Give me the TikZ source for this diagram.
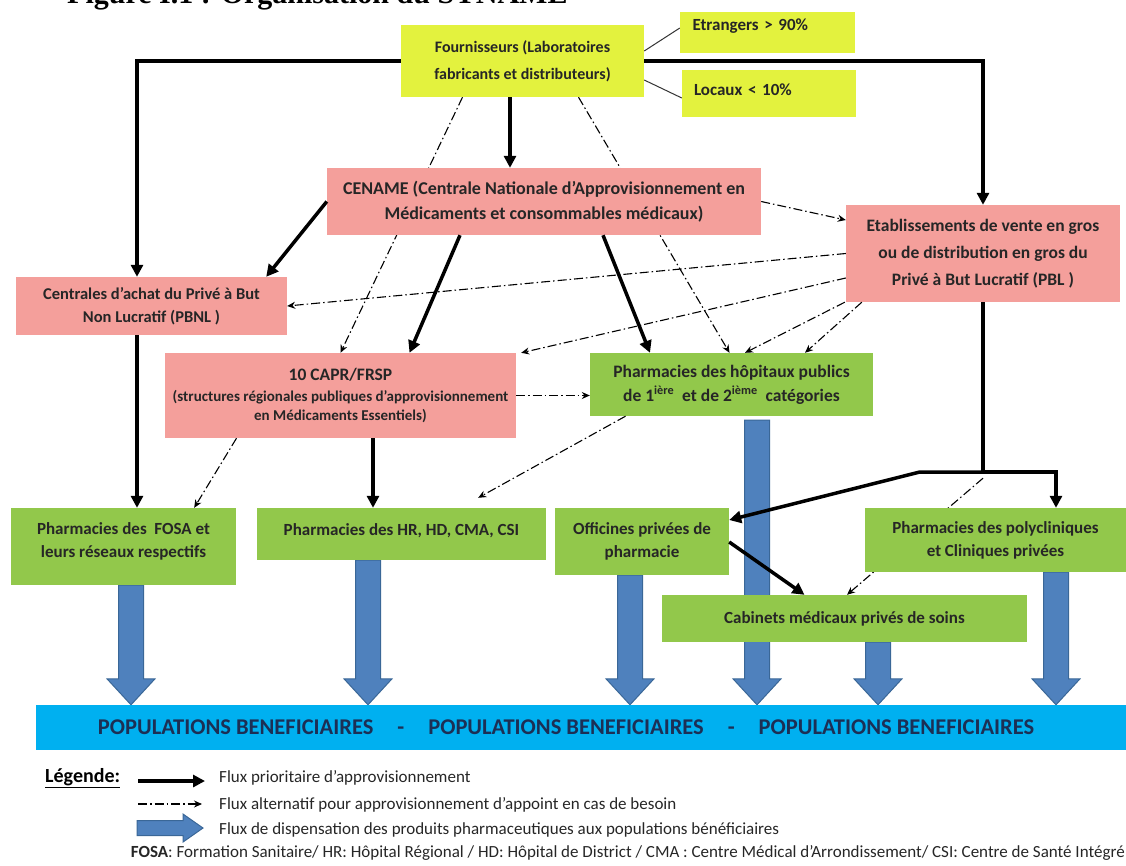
\documentclass[tikz,border=0pt]{standalone}
\usepackage{fontspec}
\setmainfont{Carlito}
\newfontfamily\titlefont{Liberation Serif}
\usetikzlibrary{arrows.meta}
\usetikzlibrary{positioning}
\usetikzlibrary{calc}
\usetikzlibrary{backgrounds}

\definecolor{jaune}{HTML}{E3F23E}
\definecolor{rose}{HTML}{F49F9B}
\definecolor{vert}{HTML}{92C84B}
\definecolor{cyanbar}{HTML}{00B0F0}
\definecolor{fluxbleu}{HTML}{4F81BD}
\definecolor{fluxbord}{HTML}{3A6797}
\definecolor{marine}{HTML}{1C2F55}

\newcommand{\boxfont}[2]{\bfseries\fontsize{#1}{#2}\selectfont}
% gros fleche bleue : depart, arrivee, demi-tige, demi-tete, longueur tete
\newcommand{\dispense}[5]{%
  \coordinate (hb) at ($(#2)!#5!(#1)$);
  \draw[flux] ($(#1)!#3!90:(#2)$) -- ($(hb)!#3!90:(#2)$) -- ($(hb)!#4!90:(#2)$) -- (#2)
    -- ($(hb)!#4!-90:(#2)$) -- ($(hb)!#3!-90:(#2)$) -- ($(#1)!#3!-90:(#2)$) -- cycle;}

\tikzset{
  box/.style={inner sep=2pt, align=center, text=black!85, font=\boxfont{17}{25}},
  jbox/.style={box, fill=jaune},
  rbox/.style={box, fill=rose},
  vbox/.style={box, fill=vert},
  prio/.style={-{Triangle[length=12pt,width=12pt]}, line width=3.5pt},
  alt/.style={-{Stealth[length=8pt,width=7pt]}, line width=1.1pt, dash pattern=on 9pt off 3pt on 1.5pt off 3pt},
  lien/.style={line width=1pt, black!80},
  flux/.style={fill=fluxbleu, draw=fluxbord, line width=1pt},
  legtext/.style={font=\fontsize{17}{20}\selectfont, text=black!85}
}

\begin{document}
\begin{tikzpicture}[x=1pt, y=-1pt]
\useasboundingbox (0,0) rectangle (1126,865);

% titre coupe
\node[font=\titlefont\bfseries\fontsize{30}{34}\selectfont, anchor=base west, inner sep=0] (titre) at (67,3) {Figure I.1 : Organisation du SYNAME};

% fournisseurs
\node[jbox, minimum width=243pt, minimum height=72pt, font=\boxfont{16}{27}] (four) at (522.5,61) {Fournisseurs (Laboratoires\\fabricants et distributeurs)};
\node[jbox, minimum width=175pt, minimum height=41pt, text width=150pt, align=left, text depth=15pt, xshift=-5pt, font=\boxfont{17}{20}] (etr) at (772.5,32.5) {Etrangers > 90\%};
\node[jbox, minimum width=174pt, minimum height=47pt, text width=150pt, align=left, text depth=7pt, xshift=-5pt, font=\boxfont{17}{20}] (loc) at (774,93.5) {Locaux < 10\%};

% centrales
\node[rbox, minimum width=434pt, minimum height=67pt, font=\boxfont{18}{25}] (cename) at (544,201.5) {CENAME (Centrale Nationale d’Approvisionnement en\\Médicaments et consommables médicaux)};
\node[rbox, minimum width=274pt, minimum height=97pt, font=\boxfont{17.5}{27}] (pbl) at (983,253.5) {Etablissements de vente en gros\\ou de distribution en gros du\\Privé à But Lucratif (PBL )};
\node[rbox, minimum width=271pt, minimum height=58pt, font=\boxfont{16.5}{23}] (pbnl) at (151.5,306) {Centrales d’achat du Privé à But\\Non Lucratif (PBNL )};
\node[rbox, minimum width=351pt, minimum height=85pt, font=\boxfont{15}{19}] (capr) at (340.5,395.5) {{\fontsize{17.5}{19}\selectfont 10 CAPR/FRSP}\\[2pt](structures régionales publiques d’approvisionnement\\en Médicaments Essentiels)};
\node[vbox, minimum width=283pt, minimum height=63pt, font=\boxfont{17.5}{24}] (hop) at (731.5,384.5) {Pharmacies des hôpitaux publics\\de 1\textsuperscript{ière}\ \ et de 2\textsuperscript{ième}\ \ catégories};

% pharmacies
\node[vbox, minimum width=225pt, minimum height=77pt, text depth=12pt, font=\boxfont{17}{23}] (fosa) at (123.5,546.5) {Pharmacies des\ \ FOSA et\\leurs réseaux respectifs};
\node[vbox, minimum width=289pt, minimum height=52pt, text depth=8pt, font=\boxfont{17}{23}] (hr) at (401.5,534) {Pharmacies des HR, HD, CMA, CSI};
\node[vbox, minimum width=174pt, minimum height=67pt, font=\boxfont{17}{23}] (off) at (642,541.5) {Officines privées de\\pharmacie};
\node[vbox, minimum width=261pt, minimum height=64pt, font=\boxfont{17}{23}] (poly) at (995.5,540) {Pharmacies des polycliniques\\et Cliniques privées};
\node[vbox, minimum width=365pt, minimum height=47pt, font=\boxfont{17}{23}] (cab) at (844.5,618.5) {Cabinets médicaux privés de soins};

% populations
\node[fill=cyanbar, minimum width=1090pt, minimum height=45pt, text=marine, font=\boxfont{22.5}{26}] (pop) at (581,727.5) {};
\node[text=marine, font=\boxfont{22.5}{26}] (poptxt) at (566,727.5) {POPULATIONS BENEFICIAIRES\hspace{24pt}-\hspace{24pt}POPULATIONS BENEFICIAIRES\hspace{24pt}-\hspace{24pt}POPULATIONS BENEFICIAIRES};

% liens vers origine
\draw[lien] ([yshift=10pt]four.east) -- ([yshift=4.5pt]etr.west);
\draw[lien] ([yshift=-19pt]four.east) -- ([yshift=-4.5pt]loc.west);

% flux prioritaires
\draw[prio] (four.west) -| ([xshift=-14.5pt]pbnl.north);
\draw[prio] (four.east) -| (pbl.north);
\draw[prio] ([xshift=-12.5pt]four.south) -- ([xshift=-12.5pt]four.south |- cename.north);
\draw[prio] (cename.west) -- ([xshift=-21pt]pbnl.north east);
\draw[prio] ([xshift=-84pt]cename.south) -- ([xshift=69pt]capr.north);
\draw[prio] ([xshift=59pt]cename.south) -- ([xshift=-81.5pt]hop.north);
\draw[prio] ([xshift=-14.5pt]pbnl.south) -- ([xshift=-14.5pt]pbnl.south |- fosa.north);
\draw[prio] ([xshift=32.5pt]capr.south) -- ([xshift=32.5pt]capr.south |- hr.north);
\coordinate (split) at ([yshift=-170pt]pbl.south);
\coordinate (bend) at ([xshift=-64pt]split);
\draw[prio] (pbl.south) -- (split) -| ([xshift=60.5pt]poly.north);
\draw[prio] (split) -- (bend) -- ([yshift=21.5pt]off.east);
\draw[prio] ([yshift=-0.5pt]off.east) -- ([xshift=-40pt]cab.north);

% flux alternatifs
\draw[alt] (cename.east) -- ([yshift=33.5pt]pbl.west);
\draw[alt] (pbl.west) -- (pbnl.east);
\draw[alt] ([yshift=-24.5pt]pbl.west) -- ([xshift=5pt]capr.north east);
\draw[alt] ([xshift=-1pt]pbl.south west) -- ([xshift=13.5pt]hop.north);
\draw[alt] ([xshift=16pt]pbl.south west) -- ([xshift=73.5pt]hop.north);
\draw[alt] (capr.east) -- (capr.east -| hop.west);
\draw[alt] ([xshift=-106pt]hop.south) -- ([xshift=-68pt,yshift=10pt]hr.north east);
\draw[alt] ([xshift=-104pt]capr.south) -- ([xshift=-42pt]fosa.north east);

\begin{scope}[on background layer]
  \draw[alt] ([xshift=-60pt]four.south) -- (capr.north);
  \draw[alt] ([xshift=56pt]four.south) -- ([xshift=-2pt]hop.north);
  \draw[alt] ([yshift=-6pt]split) -- ([xshift=2.5pt]cab.north);
  % dispensation
  \coordinate (d1) at ([xshift=7.5pt]fosa.south);
  \coordinate (d2) at ([xshift=-33.5pt]hr.south);
  \coordinate (d3) at ([xshift=-12pt]off.south);
  \coordinate (d4) at ([xshift=25.5pt,yshift=-4pt]hop.south);
  \coordinate (d5) at ([xshift=33.5pt]cab.south);
  \coordinate (d6) at ([xshift=60.5pt]poly.south);
  \foreach \d in {d1,d2,d3,d4,d5,d6}{
    \dispense{\d}{\d |- pop.north}{12.5pt}{24pt}{26pt}
  }
\end{scope}

% legende
\node[font=\boxfont{20}{22}, anchor=west, inner sep=0] (legende) at (45,778) {\underline{Légende:}};
\coordinate (lg1a) at (138,781);
\coordinate (lg1b) at (205,781);
\draw[prio] (lg1a) -- (lg1b);
\node[legtext, anchor=west, inner sep=0] (lgt1) at (219,778) {Flux prioritaire d’approvisionnement};
\coordinate (lg2a) at (138,804);
\coordinate (lg2b) at (202,804);
\draw[alt] (lg2a) -- (lg2b);
\node[legtext, anchor=west, inner sep=0] (lgt2) at (219,805) {Flux alternatif pour approvisionnement d’appoint en cas de besoin};
\coordinate (lg3a) at (137,828);
\coordinate (lg3b) at (203,828);
\dispense{lg3a}{lg3b}{7.5pt}{14pt}{20pt}
\node[legtext, anchor=west, inner sep=0] (lgt3) at (219,830) {Flux de dispensation des produits pharmaceutiques aux populations bénéficiaires};
\node[legtext, anchor=east, inner sep=0] (sigles) at (1125,853) {\textbf{FOSA}: Formation Sanitaire/ HR: Hôpital Régional / HD: Hôpital de District / CMA : Centre Médical d’Arrondissement/ CSI: Centre de Santé Intégré};
\end{tikzpicture}
\end{document}
